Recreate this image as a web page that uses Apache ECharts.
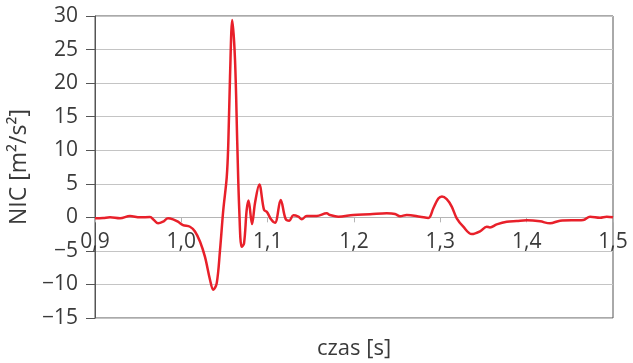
<!DOCTYPE html>
<html>
<head>
<meta charset="utf-8">
<script src="https://cdn.jsdelivr.net/npm/echarts@6/dist/echarts.min.js"></script>
<style>
  html, body { margin: 0; padding: 0; background: #fff; }
  #chart { width: 633px; height: 363px; }
</style>
</head>
<body>
<div id="chart"></div>
<script>
// Time samples [s]
const time = [
  0.9000, 0.9093, 0.9174, 0.9290, 0.9405, 0.9521, 0.9637, 0.9683, 0.9730, 0.9788,
  0.9846, 0.9904, 0.9961, 1.0019, 1.0100, 1.0158, 1.0216, 1.0274, 1.0332, 1.0370,
  1.0410, 1.0448, 1.0486, 1.0526, 1.0544, 1.0564, 1.0590, 1.0622, 1.0648, 1.0671,
  1.0699, 1.0726, 1.0757, 1.0778, 1.0819, 1.0853, 1.0903, 1.0958, 1.0992, 1.1039,
  1.1085, 1.1151, 1.1207, 1.1251, 1.1297, 1.1355, 1.1394, 1.1452, 1.1568, 1.1684,
  1.1722, 1.1818, 1.1992, 1.2185, 1.2379, 1.2475, 1.2533, 1.2611, 1.2765, 1.2861,
  1.2919, 1.2977, 1.3019, 1.3074, 1.3132, 1.3190, 1.3266, 1.3364, 1.3460, 1.3537,
  1.3575, 1.3653, 1.3769, 1.3885, 1.4001, 1.4155, 1.4271, 1.4387, 1.4656, 1.4734,
  1.4850, 1.4927, 1.5000
];

// NIC values [m²/s²]
const nic = [
  -0.15, -0.1, 0.0, -0.15, 0.2, 0.0, 0.05, -0.4, -0.9, -0.65,
  -0.15, -0.3, -0.65, -1.15, -1.4, -2.1, -3.6, -5.9, -9.3, -10.8,
  -9.8, -4.9, 1.1, 6.0, 11, 21, 29.4, 23.4, 11, 1.1,
  -4.4, -3.9, 1.1, 2.5, -1.0, 2.1, 4.9, 1.1, 0.8, -0.3,
  -0.8, 2.6, -0.2, -0.5, 0.3, 0.1, -0.3, 0.2, 0.2, 0.6,
  0.35, 0.1, 0.35, 0.45, 0.6, 0.5, 0.15, 0.35, 0.1, -0.1,
  1.35, 2.8, 3.1, 2.7, 1.6, -0.15, -1.4, -2.5, -2.1, -1.4,
  -1.5, -1.05, -0.65, -0.55, -0.45, -0.6, -0.9, -0.5, -0.4, 0.1,
  -0.05, 0.1, 0.0
];

// Axis ranges and steps
const xRange = [0.9, 1.5];
const xStep = 0.1;
const yRange = [-15, 30];
const yStep = 5;

const textColor = '#3a3a3a';
const fontFamily = '"Open Sans", "DejaVu Sans", sans-serif';

const gridTop = 16;
const gridBottom = 45;
const gridHeight = 363 - gridTop - gridBottom;
// Lift the time axis from the bottom edge up to the NIC = 0 level
const zeroLift = -gridHeight * (0 - yRange[0]) / (yRange[1] - yRange[0]);

const points = time.map((t, i) => [t, nic[i]]);

const chart = echarts.init(document.getElementById('chart'), null, { renderer: 'canvas' });
chart.setOption({
  animation: false,
  backgroundColor: '#ffffff',
  grid: {
    left: 95, right: 20, top: gridTop, bottom: gridBottom,
    containLabel: false,
    outerBoundsMode: 'none',
    show: true, borderColor: '#555555', borderWidth: 1, backgroundColor: 'transparent'
  },
  xAxis: {
    type: 'value',
    min: xRange[0], max: xRange[1], interval: xStep,
    offset: zeroLift,
    name: 'czas [s]',
    nameLocation: 'middle',
    nameGap: 120,
    nameTextStyle: { color: textColor, fontSize: 22, fontFamily: fontFamily },
    axisLine: { onZero: false, lineStyle: { color: '#b5b5b5', width: 1 } },
    axisTick: { show: true, length: 5, lineStyle: { color: '#b5b5b5' } },
    axisLabel: {
      color: textColor, fontSize: 21, fontFamily: fontFamily, margin: 14,
      showMinLabel: true, showMaxLabel: true, hideOverlap: false,
      formatter: v => v.toFixed(1).replace('.', ',')
    },
    splitLine: { show: false }
  },
  yAxis: {
    type: 'value',
    min: yRange[0], max: yRange[1], interval: yStep,
    name: 'NIC [m²/s²]',
    nameLocation: 'middle',
    nameGap: 60,
    nameTextStyle: { color: textColor, fontSize: 23, fontFamily: fontFamily },
    axisLine: { show: true, lineStyle: { color: '#555555', width: 1 } },
    axisTick: { show: true, inside: false, length: 9, lineStyle: { color: '#555555' } },
    axisLabel: {
      color: textColor, fontSize: 21, fontFamily: fontFamily, margin: 17,
      formatter: v => (v < 0 ? '\u2212' + Math.abs(v) : String(v))
    },
    splitLine: { show: true, lineStyle: { color: '#c4c4c4', width: 1 } }
  },
  series: [{
    type: 'line',
    data: points,
    showSymbol: false,
    smooth: 0.35,
    lineStyle: { color: '#e8202a', width: 2.5 },
    itemStyle: { color: '#e8202a' },
    z: 3
  }]
});
</script>
</body>
</html>
